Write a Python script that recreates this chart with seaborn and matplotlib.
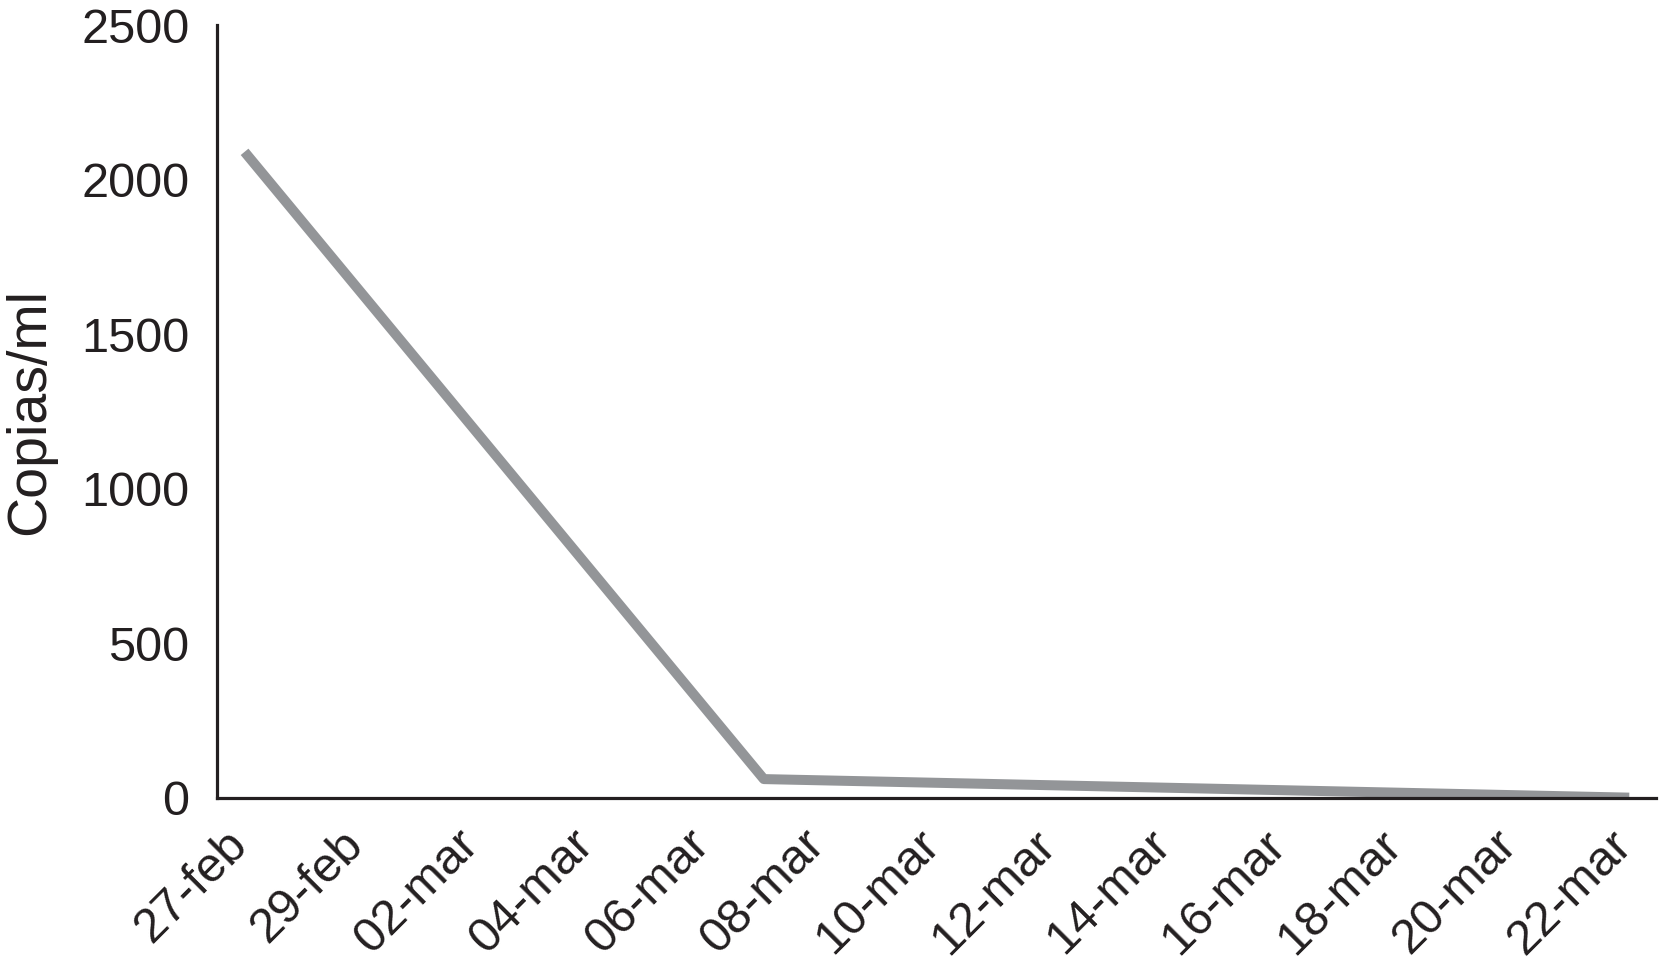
import pandas as pd
import seaborn as sns
import matplotlib.pyplot as plt
import matplotlib.transforms as mtransforms

# --- data ---
fechas = ["2020-02-27", "2020-03-07", "2020-03-22"]
copias = [2090, 60, 0]

tick_fechas = pd.date_range("2020-02-27", "2020-03-22", freq="2D")
tick_labels = ["27-feb", "29-feb", "02-mar", "04-mar", "06-mar", "08-mar", "10-mar",
               "12-mar", "14-mar", "16-mar", "18-mar", "20-mar", "22-mar"]
y_ticks = [0, 500, 1000, 1500, 2000, 2500]

df = pd.DataFrame({"fecha": pd.to_datetime(fechas), "copias": copias})

# --- plot ---
sns.set_style("white")
plt.rcParams["font.family"] = ["Liberation Sans", "DejaVu Sans"]

fig = plt.figure(figsize=(16.59, 9.68), dpi=100)
ax = fig.add_axes([0.131, 0.176, 0.867, 0.798])

sns.lineplot(data=df, x="fecha", y="copias", ax=ax, color="#939598", linewidth=7.2,
             solid_capstyle="butt")

ax.set_xlim(pd.Timestamp("2020-02-26 12:40"), pd.Timestamp("2020-03-22 11:00"))
ax.set_ylim(0, 2500)
ax.set_yticks(y_ticks)
ax.set_yticklabels([str(v) for v in y_ticks], fontsize=35)
ax.set_xticks(tick_fechas)
ax.set_xticklabels(tick_labels, fontsize=35, rotation=45, ha="right",
                   rotation_mode="anchor")
ax.tick_params(axis="both", length=0, colors="#231f20")
ax.tick_params(axis="y", pad=20)
ax.tick_params(axis="x", pad=26)

# nudge the rotated date labels a little left/up like the original
shift = mtransforms.ScaledTranslation(-0.2, 0.12, fig.dpi_scale_trans)
for lbl in ax.get_xticklabels():
    lbl.set_transform(lbl.get_transform() + shift)

ax.set_xlabel("")
ax.set_ylabel("Copias/ml", fontsize=40, color="#231f20", labelpad=18)

sns.despine(ax=ax)
for s in ["left", "bottom"]:
    ax.spines[s].set_color("#231f20")
    ax.spines[s].set_linewidth(2.3)

fig.savefig("out.png", dpi=100)
